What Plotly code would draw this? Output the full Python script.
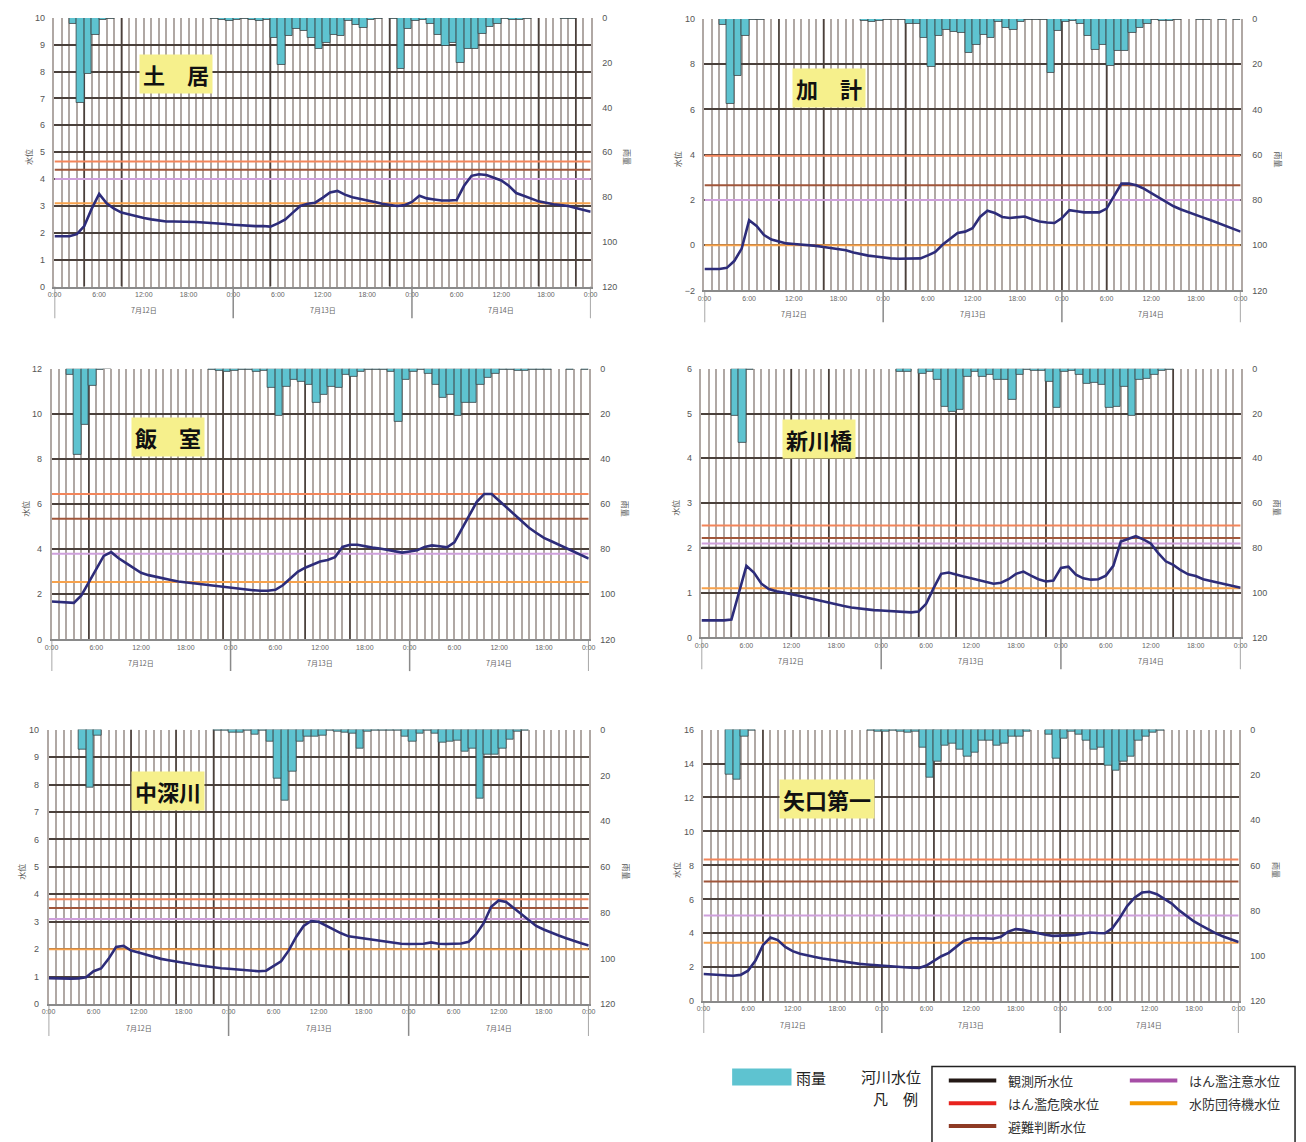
import plotly.graph_objects as go

W, H = 1306, 1142

# ---- time axis (hours from 7/12 0:00) ----
hours = list(range(73))
rain_hours = [h + 0.5 for h in range(72)]
time_ticks = list(range(0, 73, 6))
time_labels = ["0:00", "6:00", "12:00", "18:00"] * 3 + ["0:00"]
day_centers = [12, 36, 60]
day_labels = ["7月12日", "7月13日", "7月14日"]
threshold_names = ["はん濫危険水位", "避難判断水位", "はん濫注意水位", "水防団待機水位"]

# ---- 土居 ----
doi_level = [1.87, 1.87, 1.87, 1.95, 2.25, 2.9, 3.45, 3.1, 2.9, 2.75, 2.68, 2.6,
             2.55, 2.5, 2.45, 2.42, 2.42, 2.42, 2.4, 2.4, 2.38, 2.37, 2.35, 2.33,
             2.3, 2.28, 2.27, 2.25, 2.25, 2.23, 2.35, 2.5, 2.75, 3.0, 3.08, 3.12,
             3.3, 3.5, 3.56, 3.42, 3.32, 3.27, 3.22, 3.15, 3.08, 3.05, 3.0, 3.03,
             3.15, 3.38, 3.28, 3.24, 3.2, 3.2, 3.22, 3.75, 4.12, 4.18, 4.15, 4.05,
             3.95, 3.75, 3.48, 3.38, 3.27, 3.17, 3.12, 3.06, 3.03, 3.0, 2.92, 2.85,
             2.78]
doi_rain = [0, 0, 2.5, 38, 25, 7.5, 1, 0.5, 0, 0, 0, 0,
            0, 0, 0, 0, 0, 0, 0, 0, 0, 0.3, 1, 1.5,
            1, 0.3, 1, 1.5, 1, 9, 21, 8, 5, 6, 9, 14,
            11, 7.5, 8, 1.5, 3, 4.5, 1, 0.5, 0, 0.5, 23, 5,
            1.5, 1, 2.5, 7.5, 12.5, 11, 20, 14, 14, 7, 4, 2.5,
            0.5, 1, 1, 0.5, 0, 0, 0, 0, 0.5, 0.3, 0, 0]
doi_thresholds = [4.65, 4.35, 4.0, 3.1]
doi_marks = [4, 9, 29, 45, 65, 70]

# ---- 加計 ----
kake_level = [-1.05, -1.05, -1.05, -1.0, -0.7, -0.15, 1.1, 0.85, 0.45, 0.25, 0.15, 0.08,
              0.05, 0.03, 0.02, -0.03, -0.08, -0.12, -0.18, -0.22, -0.32, -0.4, -0.46, -0.5,
              -0.55, -0.58, -0.6, -0.6, -0.6, -0.58, -0.45, -0.3, 0.03, 0.3, 0.54, 0.6,
              0.75, 1.25, 1.52, 1.42, 1.25, 1.2, 1.22, 1.27, 1.15, 1.05, 1.0, 0.98,
              1.2, 1.55, 1.5, 1.45, 1.45, 1.45, 1.62, 2.2, 2.72, 2.72, 2.65, 2.5,
              2.3, 2.1, 1.9, 1.72, 1.58, 1.45, 1.35, 1.22, 1.1, 0.98, 0.85, 0.72,
              0.6]
kake_rain = [0, 0, 2.6, 37.5, 25, 7.3, 0.5, 0.3, 0, 0, 0, 0,
             0, 0, 0, 0, 0, 0, 0, 0, 0, 1, 1.5, 1,
             0.5, 0.3, 0.5, 2, 2, 8.5, 21, 7.7, 4.8, 5.6, 6.4, 15,
             11.4, 7, 8.5, 1.2, 4, 4.8, 1.2, 0.5, 0.3, 0.5, 23.8, 5.5,
             1.2, 1, 2.2, 7.7, 13.6, 11.4, 20.9, 14.3, 14.3, 6.4, 4, 2,
             0.5, 1, 1, 0.5, 0, 0, 0.3, 0.3, 0, 0.3, 0, 0.5]
kake_thresholds = [3.95, 2.65, 2.0, 0.0]
kake_marks = [10, 16, 27, 48, 54]

# ---- 飯室 ----
imuro_level = [1.68, 1.67, 1.65, 1.62, 1.95, 2.55, 3.1, 3.7, 3.87, 3.6, 3.38, 3.15,
               2.95, 2.85, 2.77, 2.7, 2.63, 2.57, 2.53, 2.5, 2.47, 2.43, 2.37, 2.32,
               2.3, 2.27, 2.22, 2.18, 2.16, 2.16, 2.2, 2.4, 2.7, 3.0, 3.18, 3.3,
               3.45, 3.52, 3.65, 4.1, 4.2, 4.2, 4.12, 4.07, 4.03, 3.97, 3.88, 3.85,
               3.9, 3.95, 4.1, 4.17, 4.13, 4.08, 4.3, 4.9, 5.5, 6.1, 6.45, 6.45,
               6.15, 5.85, 5.55, 5.25, 4.95, 4.72, 4.5, 4.35, 4.2, 4.02, 3.88, 3.72,
               3.58]
imuro_rain = [0, 0, 2.8, 38, 24.8, 7.6, 0.6, 0.2, 0, 0, 0, 0,
              0, 0, 0, 0, 0, 0, 0, 0, 0, 0.5, 1, 1.3,
              0.9, 0.3, 0.3, 1.3, 0.9, 8.6, 21, 7.9, 5, 5.7, 7.2, 15,
              11.6, 7.9, 8.6, 2.8, 3.5, 1.3, 0.6, 0.3, 0.3, 1.3, 23.3, 5,
              1.3, 0.6, 2, 7.2, 13, 11.6, 21, 15, 15, 7.2, 4.2, 2,
              0.6, 0.3, 0.9, 0.9, 0.3, 0.3, 0.3, 0, 0, 0.3, 0, 0.3]
imuro_thresholds = [6.45, 5.35, 3.8, 2.55]
imuro_marks = [5, 23, 34, 40]

# ---- 新川橋 ----
shinkawa_level = [0.38, 0.38, 0.38, 0.38, 0.4, 1.0, 1.6, 1.45, 1.2, 1.08, 1.03, 1.0,
                  0.97, 0.93, 0.89, 0.85, 0.81, 0.77, 0.74, 0.7, 0.67, 0.65, 0.62, 0.61,
                  0.6, 0.59, 0.57, 0.56, 0.56, 0.58, 0.75, 1.1, 1.42, 1.45, 1.4, 1.36,
                  1.32, 1.28, 1.23, 1.2, 1.22, 1.3, 1.42, 1.47, 1.38, 1.3, 1.25, 1.27,
                  1.55, 1.58, 1.4, 1.32, 1.29, 1.3, 1.38, 1.6, 2.14, 2.2, 2.26, 2.19,
                  2.1, 1.88, 1.7, 1.62, 1.5, 1.41, 1.37, 1.3, 1.26, 1.22, 1.18, 1.14,
                  1.11]
shinkawa_rain = [0, 0, 0, 0, 21.2, 33.2, 0.3, 0, 0, 0, 0, 0,
                 0, 0, 0, 0, 0, 0, 0, 0, 0, 0, 0, 0,
                 0, 0, 1.5, 1.5, 0, 2.2, 1.5, 5.1, 16.8, 19, 18.3, 3.4,
                 1.5, 3.7, 2.9, 5.1, 5.1, 13.9, 2.9, 0.5, 0.7, 0.7, 5.9, 17.6,
                 1.5, 0.7, 2.9, 6.6, 6.3, 7.3, 17.6, 16.8, 8, 21.2, 5.1, 4.4,
                 2.9, 0.7, 0.3, 0, 0, 0, 0, 0, 0, 0, 0, 0]
shinkawa_thresholds = [2.5, 2.22, 2.1, 1.1]
shinkawa_marks = [12, 17, 29, 34, 46, 63]

# ---- 中深川 ----
nakafuka_level = [0.95, 0.94, 0.93, 0.93, 0.94, 0.98, 1.2, 1.3, 1.65, 2.08, 2.12, 1.95,
                  1.88, 1.8, 1.73, 1.65, 1.6, 1.55, 1.5, 1.46, 1.42, 1.38, 1.34, 1.31,
                  1.29, 1.27, 1.25, 1.22, 1.2, 1.22, 1.38, 1.56, 1.95, 2.45, 2.85, 3.03,
                  3.0, 2.85, 2.7, 2.58, 2.47, 2.43, 2.4, 2.36, 2.32, 2.28, 2.24, 2.2,
                  2.19, 2.19, 2.2, 2.25, 2.2, 2.19, 2.19, 2.21, 2.27, 2.55, 2.95, 3.55,
                  3.78, 3.72, 3.5, 3.28, 3.05, 2.85, 2.72, 2.6, 2.5, 2.4, 2.3, 2.22,
                  2.14]
nakafuka_rain = [0, 0, 0, 0, 8.9, 25.5, 2.5, 0, 0, 0, 0, 0,
                 0, 0, 0, 0, 0, 0, 0, 0, 0, 0, 0.5, 0.3,
                 1.4, 1.4, 0.3, 2, 0.5, 5.3, 21.2, 30.9, 18.3, 5.3, 3.2, 2.9,
                 2.5, 0.5, 1, 1.4, 1.7, 8.2, 1, 0.3, 0.6, 0.6, 0.6, 3.2,
                 5.3, 1.7, 0.3, 1.7, 5.8, 5.3, 4.6, 9.7, 8.2, 30.3, 11.1, 11.1,
                 8.2, 4.3, 1, 0.3, 0, 0, 0, 0, 0, 0, 0, 0]
nakafuka_thresholds = [3.82, 3.5, 3.1, 2.0]
nakafuka_marks = [11, 17, 22, 40, 52, 63]

# ---- 矢口第一 ----
yaguchi_level = [1.6, 1.58, 1.55, 1.52, 1.5, 1.55, 1.8, 2.4, 3.3, 3.75, 3.6, 3.2,
                 2.95, 2.8, 2.68, 2.6, 2.52, 2.45, 2.4, 2.32, 2.25, 2.2, 2.16, 2.12,
                 2.1, 2.05, 2.02, 2.0, 1.98, 1.96, 2.1, 2.4, 2.65, 2.85, 3.2, 3.55,
                 3.7, 3.72, 3.7, 3.68, 3.8, 4.1, 4.25, 4.2, 4.1, 4.0, 3.92, 3.85,
                 3.85, 3.88, 3.9, 3.98, 4.05, 4.02, 4.0, 4.3, 4.9, 5.6, 6.1, 6.4,
                 6.45, 6.3, 6.05, 5.75, 5.35, 5.0, 4.7, 4.45, 4.2, 3.98, 3.8, 3.62,
                 3.48]
yaguchi_rain = [0, 0, 0, 20, 22, 3, 0.5, 0, 0, 0, 0, 0,
                0, 0, 0, 0, 0, 0, 0, 0, 0, 0, 0.5, 1,
                1, 0.5, 1, 1.5, 1, 8, 21, 14, 7, 6, 9, 12,
                10, 5, 5, 7, 6, 3, 3, 1, 0, 0, 2, 13,
                4, 1, 2, 5, 9, 8, 16, 18, 14, 12, 5, 3,
                1.5, 0.5, 0, 0, 0, 0, 0, 0, 0, 0, 0, 0]
yaguchi_thresholds = [8.35, 7.05, 5.05, 3.45]
yaguchi_marks = [8, 24, 31, 48, 55]

# ---- styling ----
LEVEL_COLOR = "#2d2c7a"
RAIN_COLOR = "#5ec3d0"
RAIN_EDGE = "#3d4548"
HGRID = "#4a403b"
VGRID = "#b0a8a4"
TH_COLORS = ["#f3855a", "#a0563a", "#cfa0dc", "#f7a24c"]
JP = "Noto Sans CJK JP"

# name, level, rain, thresholds, marks, y-range, y-step, plot box (x0, x1, ytop, ybottom), label centre
panels = [
    ("土　居", doi_level, doi_rain, doi_thresholds, doi_marks, [0, 10], 1, (48, 590, 13, 284), (171, 70)),
    ("加　計", kake_level, kake_rain, kake_thresholds, kake_marks, [-2, 10], 2, (705, 1247, 14, 288), (831, 84)),
    ("飯　室", imuro_level, imuro_rain, imuro_thresholds, imuro_marks, [0, 12], 2, (45, 588, 367, 640), (163, 436)),
    ("新川橋", shinkawa_level, shinkawa_rain, shinkawa_thresholds, shinkawa_marks, [0, 6], 1, (702, 1247, 367, 638), (821, 438)),
    ("中深川", nakafuka_level, nakafuka_rain, nakafuka_thresholds, nakafuka_marks, [0, 10], 1, (42, 588, 731, 1008), (163, 793)),
    ("矢口第一", yaguchi_level, yaguchi_rain, yaguchi_thresholds, yaguchi_marks, [0, 16], 2, (704, 1245, 731, 1005), (829, 801)),
]


def px(x):
    return x / W


def py(y):
    return 1 - y / H


def note(x, y, text, size, color="#555555", xanchor="center", **kw):
    return dict(x=x, y=y, xref="paper", yref="paper", text=text, showarrow=False,
                xanchor=xanchor, yanchor="middle",
                font=dict(size=size, color=color, family=JP), **kw)


fig = go.Figure()
shapes = []
annotations = []
layout = {}

for i, (name, level, rain, ths, marks, yr, ystep, box, lab) in enumerate(panels, start=1):
    x0, x1, yt, yb = box
    xs = "" if i == 1 else str(i)
    ly, ry = 2 * i - 1, 2 * i
    xref = f"x{xs}"
    lyref = "y" if ly == 1 else f"y{ly}"
    ryref = f"y{ry}"

    layout[f"xaxis{xs}"] = dict(
        domain=[px(x0), px(x1)], range=[0, 72], anchor=lyref,
        tickmode="array", tickvals=time_ticks, ticktext=time_labels,
        showgrid=True, gridcolor=VGRID, gridwidth=1.5,
        minor=dict(tickmode="linear", tick0=0, dtick=1, showgrid=True,
                   gridcolor=VGRID, gridwidth=1.5),
        showline=True, linecolor="#8a8a8a", linewidth=1.5, zeroline=False,
        ticks="", tickfont=dict(size=7, color="#666666", family="Arial"),
        tickangle=0,
    )
    layout[f"yaxis{'' if ly == 1 else ly}"] = dict(
        domain=[py(yb), py(yt)], range=yr, tick0=0, dtick=ystep, anchor=xref,
        showgrid=True, gridcolor=HGRID, gridwidth=1.5, zeroline=False,
        showline=True, linecolor=VGRID, linewidth=1.5,
        ticks="", ticklabelstandoff=6,
        tickfont=dict(size=9, color="#555555", family="Arial"),
    )
    layout[f"yaxis{ry}"] = dict(
        overlaying=lyref, side="right", anchor=xref, range=[120, 0],
        tick0=0, dtick=20, showgrid=False, zeroline=False,
        showline=True, linecolor=VGRID, linewidth=1.5,
        ticks="", ticklabelstandoff=8,
        tickfont=dict(size=9, color="#555555", family="Arial"),
    )

    # warning levels
    for v, c in zip(ths, TH_COLORS):
        fig.add_trace(go.Scatter(x=[0, 72], y=[v, v], mode="lines",
                                 line=dict(color=c, width=2),
                                 xaxis=xref, yaxis=lyref, hoverinfo="skip",
                                 showlegend=False))
    # water level
    fig.add_trace(go.Scatter(x=hours, y=level, mode="lines",
                             line=dict(color=LEVEL_COLOR, width=2.6),
                             xaxis=xref, yaxis=lyref, showlegend=False))
    # hourly rainfall hanging from the top
    fig.add_trace(go.Bar(x=rain_hours, y=[r if r > 0 else None for r in rain], width=1,
                         marker=dict(color=RAIN_COLOR, line=dict(color=RAIN_EDGE, width=0.8)),
                         xaxis=xref, yaxis=ryref, showlegend=False))

    # heavier vertical rules
    for h in marks:
        shapes.append(dict(type="line", xref=xref, yref=lyref, x0=h, x1=h,
                           y0=yr[0], y1=yr[1], layer="between",
                           line=dict(color=HGRID, width=1.6)))
    if name == "新川橋":
        shapes.append(dict(type="line", xref=xref, yref=lyref, x0=0, x1=72,
                           y0=2.0, y1=2.0, layer="between",
                           line=dict(color="#3a3430", width=2.4)))
    # day separators below the axis
    for h in [0, 24, 48, 72]:
        shapes.append(dict(type="line", xref=xref, yref="paper", x0=h, x1=h,
                           y0=py(yb), y1=py(yb + 32),
                           line=dict(color="#8a8a8a", width=1.5)))
    for c, t in zip(day_centers, day_labels):
        annotations.append(dict(x=c, xref=xref, y=py(yb + 24), yref="paper",
                                xanchor="center", yanchor="middle",
                                text=t, showarrow=False,
                                font=dict(size=7, color="#666666", family=JP)))
    # axis titles
    annotations.append(note(px(x0 - 27), py((yt + yb) / 2 + 5), "水位", 8, textangle=-90))
    annotations.append(note(px(x1 + 38), py((yt + yb) / 2 + 5), "雨量", 8, textangle=90))
    # station name
    annotations.append(note(px(lab[0]), py(lab[1]), f"<b>{name}</b>", 22, color="#111111",
                            bgcolor="#f6f08c", borderpad=3))

# ---- legend block ----
shapes.append(dict(type="rect", xref="paper", yref="paper",
                   x0=px(733), x1=px(793), y0=py(1090), y1=py(1073),
                   fillcolor=RAIN_COLOR, line=dict(width=0)))
annotations.append(note(px(796), py(1082), "雨量", 15, color="#222222", xanchor="left"))
annotations.append(note(px(926), py(1081), "河川水位", 15, color="#222222", xanchor="right"))
annotations.append(note(px(923), py(1103), "凡　例", 15, color="#222222", xanchor="right"))
shapes.append(dict(type="rect", xref="paper", yref="paper",
                   x0=px(935), x1=px(1302), y0=py(1150), y1=py(1071),
                   line=dict(color="#222222", width=1.5)))
legend_items = [
    ("観測所水位", "#231815", 952, 1085),
    ("はん濫危険水位", "#e8231e", 952, 1108),
    ("避難判断水位", "#8e3a24", 952, 1131),
    ("はん濫注意水位", "#a64ea6", 1135, 1085),
    ("水防団待機水位", "#f39800", 1135, 1108),
]
for text, color, lx, ly_ in legend_items:
    shapes.append(dict(type="line", xref="paper", yref="paper",
                       x0=px(lx), x1=px(lx + 48), y0=py(ly_), y1=py(ly_),
                       line=dict(color=color, width=4)))
    annotations.append(note(px(lx + 58), py(ly_), text, 13, color="#333333", xanchor="left"))

fig.update_layout(
    width=W, height=H, margin=dict(l=0, r=0, t=0, b=0),
    paper_bgcolor="white", plot_bgcolor="white",
    showlegend=False, bargap=0, shapes=shapes, annotations=annotations,
    **layout,
)

fig.write_html("out.html")
